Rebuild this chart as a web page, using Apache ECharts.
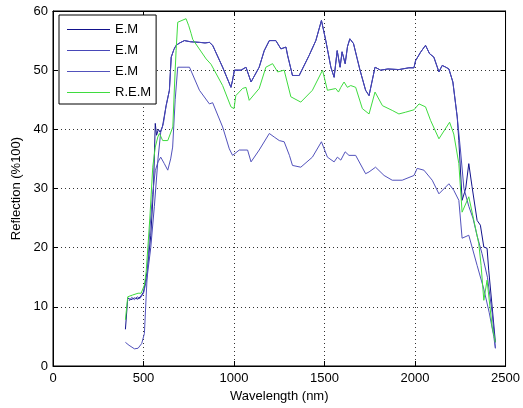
<!DOCTYPE html>
<html>
<head>
<meta charset="utf-8">
<script src="https://cdn.jsdelivr.net/npm/echarts@6/dist/echarts.min.js"></script>
<style>
html,body{margin:0;padding:0;background:#fff;}
#chart{width:523px;height:408px;}
</style>
</head>
<body>
<div id="chart"></div>
<script>
// ---- Data ----
const xTicks = [0, 500, 1000, 1500, 2000, 2500];
const yTicks = [0, 10, 20, 30, 40, 50, 60];
const seriesIds = ['E.M#1', 'E.M#2', 'E.M#3', 'R.E.M'];
const seriesLabels = ['E.M', 'E.M', 'E.M', 'R.E.M'];

const em1Wl = [400, 413, 430, 450, 470, 490, 500, 520, 540, 555, 565, 572, 582, 592, 605, 625, 643, 653, 668, 680, 700, 726, 760, 809, 840, 864, 875, 882, 937, 983, 992, 1002, 1039, 1066, 1094, 1103, 1139, 1167, 1195, 1231, 1259, 1287, 1296, 1323, 1360, 1415, 1452, 1483, 1507, 1535, 1553, 1570, 1586, 1597, 1614, 1627, 1640, 1660, 1680, 1696, 1727, 1746, 1779, 1810, 1850, 1911, 1966, 1994, 2003, 2030, 2058, 2080, 2104, 2132, 2150, 2170, 2187, 2209, 2233, 2242, 2260, 2280, 2297, 2315, 2343, 2361, 2380, 2398, 2407, 2426, 2444];
const em1Val = [6.2, 11.5, 11.2, 11.5, 11.3, 12, 12.5, 16, 22, 30, 41, 39, 40, 39.5, 40.5, 44, 46.6, 52.2, 53.5, 54.2, 54.6, 55, 54.8, 54.7, 54.6, 54.7, 54.8, 54.2, 50.5, 47.1, 48.3, 50, 50, 50.5, 48, 48.5, 50.5, 53.3, 55, 55, 53.6, 53.9, 52.5, 49.1, 49.1, 52.5, 55, 58.4, 55, 50.5, 48.8, 53.3, 50.5, 53.1, 51.1, 54, 55.3, 54.5, 52, 50, 46.6, 45.7, 50.5, 50, 50.2, 50.1, 50.4, 50.4, 51.6, 53, 54.2, 52.8, 52.2, 49.7, 50.8, 50.5, 50.2, 48, 42.1, 38.1, 28, 30, 34.2, 30.3, 24.6, 23.8, 20.1, 19.9, 16.2, 10, 4];

const em2Wl = [420, 435, 450, 465, 480, 500, 520, 540, 560, 580, 595, 610, 625, 643, 653, 668, 680, 700, 726, 760, 809, 840, 864, 875, 882, 937, 983, 992, 1002, 1039, 1066, 1094, 1103, 1139, 1167, 1195, 1231, 1259, 1287, 1296, 1323, 1360, 1415, 1452, 1483, 1507, 1535, 1553, 1570, 1586, 1597, 1614, 1627, 1640, 1660, 1680, 1696, 1727, 1746, 1779, 1810, 1850, 1911, 1966, 1994, 2003, 2030, 2058, 2080, 2104, 2132, 2150, 2170, 2187, 2209, 2233, 2251, 2270, 2297, 2320, 2343, 2370, 2400, 2426, 2444];
const em2Val = [11, 11.6, 11.2, 11.7, 11.4, 12.3, 15, 20, 27, 35, 39.5, 41, 44, 46.6, 52.2, 53.5, 54.2, 54.6, 55, 54.8, 54.7, 54.6, 54.7, 54.8, 54.2, 50.5, 47.1, 48.3, 50, 50, 50.5, 48, 48.5, 50.5, 53.3, 55, 55, 53.6, 53.9, 52.5, 49.1, 49.1, 52.5, 55, 58.4, 55, 50.5, 48.8, 53.3, 50.5, 53.1, 51.1, 54, 55.3, 54.5, 52, 50, 46.6, 45.7, 50.5, 50, 50.2, 50.1, 50.4, 50.4, 51.6, 53, 54.2, 52.8, 52.2, 49.7, 50.8, 50.5, 50.2, 48, 42.1, 36.5, 30, 27, 25, 22, 19, 15, 9, 3];

const em3Wl = [400, 420, 450, 470, 490, 505, 515, 525, 535, 550, 565, 580, 595, 615, 634, 650, 661, 675, 689, 700, 735, 754, 809, 864, 882, 937, 974, 992, 1029, 1075, 1094, 1139, 1195, 1222, 1250, 1277, 1306, 1323, 1369, 1433, 1483, 1516, 1553, 1571, 1590, 1614, 1635, 1672, 1727, 1746, 1782, 1829, 1874, 1929, 1994, 2012, 2049, 2095, 2132, 2187, 2214, 2242, 2260, 2297, 2343, 2380, 2410, 2435, 2444];
const em3Val = [4, 3.5, 2.9, 3, 3.8, 5.5, 12, 18, 23, 29, 33, 34.5, 35.3, 34.2, 33.1, 35, 37, 45, 50.5, 50.8, 50.5, 50.5, 46.6, 44.3, 44.5, 40.4, 36.7, 35.6, 36.5, 36.5, 34.5, 36.5, 39.3, 38.7, 38.1, 37.9, 35.6, 33.9, 33.6, 35.3, 37.9, 35.3, 34.5, 35.3, 34.8, 36.2, 35.6, 35.6, 32.5, 32.8, 33.6, 32.2, 31.4, 31.4, 32.2, 33.4, 33.1, 31.4, 29.1, 30.8, 29.7, 28, 21.6, 22.1, 17, 13, 9, 5, 3];

const remWl = [400, 413, 440, 470, 487, 505, 515, 524, 535, 551, 565, 579, 588, 606, 634, 662, 672, 680, 689, 700, 735, 750, 763, 772, 846, 873, 937, 983, 1000, 1010, 1047, 1066, 1084, 1094, 1139, 1176, 1213, 1241, 1277, 1314, 1369, 1433, 1489, 1516, 1562, 1577, 1590, 1608, 1626, 1645, 1672, 1709, 1746, 1779, 1820, 1874, 1911, 1948, 1994, 2022, 2058, 2086, 2132, 2191, 2214, 2242, 2260, 2297, 2325, 2352, 2365, 2380, 2398, 2426, 2444];
const remVal = [7.8, 11.7, 12, 12.3, 12.3, 13.7, 16, 20, 25, 33.6, 37, 38.7, 39.3, 38.1, 38.1, 40.4, 48, 53.3, 58.1, 58.4, 58.7, 57.5, 56.2, 55.2, 51.9, 51, 47.4, 43.8, 43.5, 45.7, 46.9, 47.1, 44.9, 45, 46.9, 50.5, 51.1, 49.7, 50, 45.5, 44.6, 46.6, 50, 46.6, 46.9, 46.3, 47.1, 48, 47.1, 47.4, 47.1, 43.5, 42.6, 46.3, 44, 43.2, 42.6, 42.9, 43.3, 44.3, 43.8, 41.5, 38.4, 41.2, 39.2, 34.2, 26, 28.6, 24.6, 20.7, 17, 11.1, 14.5, 6.6, 4];

const colors = ['#12128c', '#4848b8', '#5252bc', '#3fdc3f'];

function pairs(xs, ys) { return xs.map((x, i) => [x, ys[i]]); }

const FONT = 'Liberation Sans, Arial, Helvetica, sans-serif';
const chart = echarts.init(document.getElementById('chart'), null, {renderer: 'canvas'});

const mkSeries = (name, xs, ys, color) => ({
  name: name,
  type: 'line',
  data: pairs(xs, ys),
  symbol: 'none',
  showSymbol: false,
  smooth: false,
  animation: false,
  lineStyle: {color: color, width: 1},
  itemStyle: {color: color},
  emphasis: {disabled: true}
});

const axisCommonX = {
  type: 'value', min: xTicks[0], max: xTicks[xTicks.length - 1], interval: 500
};
const axisCommonY = {
  type: 'value', min: yTicks[0], max: yTicks[yTicks.length - 1], interval: 10
};
const plainNum = v => String(v);

chart.setOption({
  backgroundColor: '#ffffff',
  animation: false,
  textStyle: {fontFamily: FONT},
  grid: {left: 53, right: 17, top: 11, bottom: 42, show: true, borderColor: '#000', borderWidth: 1, backgroundColor: '#fff'},
  legend: {
    orient: 'vertical',
    left: 59, top: 15,
    padding: [8, 5, 5, 8],
    icon: 'rect',
    itemWidth: 43, itemHeight: 1, itemGap: 8,
    backgroundColor: '#fff',
    borderColor: '#000', borderWidth: 1, borderRadius: 0,
    textStyle: {fontFamily: FONT, fontSize: 13, color: '#000'},
    selectedMode: false,
    formatter: name => seriesLabels[seriesIds.indexOf(name)],
    data: seriesIds.slice()
  },
  xAxis: [
    Object.assign({}, axisCommonX, {
      position: 'bottom',
      name: 'Wavelength (nm)', nameLocation: 'middle', nameGap: 22,
      nameTextStyle: {fontFamily: FONT, fontSize: 13, color: '#000'},
      axisLine: {show: true, onZero: false, lineStyle: {color: '#000', width: 1}},
      axisTick: {show: true, inside: true, length: 5, lineStyle: {color: '#000'}},
      axisLabel: {fontFamily: FONT, fontSize: 13, color: '#000', margin: 6, formatter: plainNum},
      splitLine: {show: true, lineStyle: {color: '#333', width: 1, type: [1, 3]}}
    }),
    Object.assign({}, axisCommonX, {
      position: 'top',
      axisLine: {show: true, onZero: false, lineStyle: {color: '#000', width: 1}},
      axisTick: {show: true, inside: true, length: 5, lineStyle: {color: '#000'}},
      axisLabel: {show: false},
      splitLine: {show: false}
    })
  ],
  yAxis: [
    Object.assign({}, axisCommonY, {
      position: 'left',
      name: 'Reflection (%100)', nameLocation: 'middle', nameGap: 28,
      nameTextStyle: {fontFamily: FONT, fontSize: 13, color: '#000'},
      axisLine: {show: true, onZero: false, lineStyle: {color: '#000', width: 1}},
      axisTick: {show: true, inside: true, length: 5, lineStyle: {color: '#000'}},
      axisLabel: {fontFamily: FONT, fontSize: 13, color: '#000', margin: 5, formatter: plainNum},
      splitLine: {show: true, lineStyle: {color: '#333', width: 1, type: [1, 3]}}
    }),
    Object.assign({}, axisCommonY, {
      position: 'right',
      axisLine: {show: true, onZero: false, lineStyle: {color: '#000', width: 1}},
      axisTick: {show: true, inside: true, length: 5, lineStyle: {color: '#000'}},
      axisLabel: {show: false},
      splitLine: {show: false}
    })
  ],
  series: [
    mkSeries(seriesIds[0], em1Wl, em1Val, colors[0]),
    mkSeries(seriesIds[1], em2Wl, em2Val, colors[1]),
    mkSeries(seriesIds[2], em3Wl, em3Val, colors[2]),
    mkSeries(seriesIds[3], remWl, remVal, colors[3])
  ]
});
</script>
</body>
</html>
